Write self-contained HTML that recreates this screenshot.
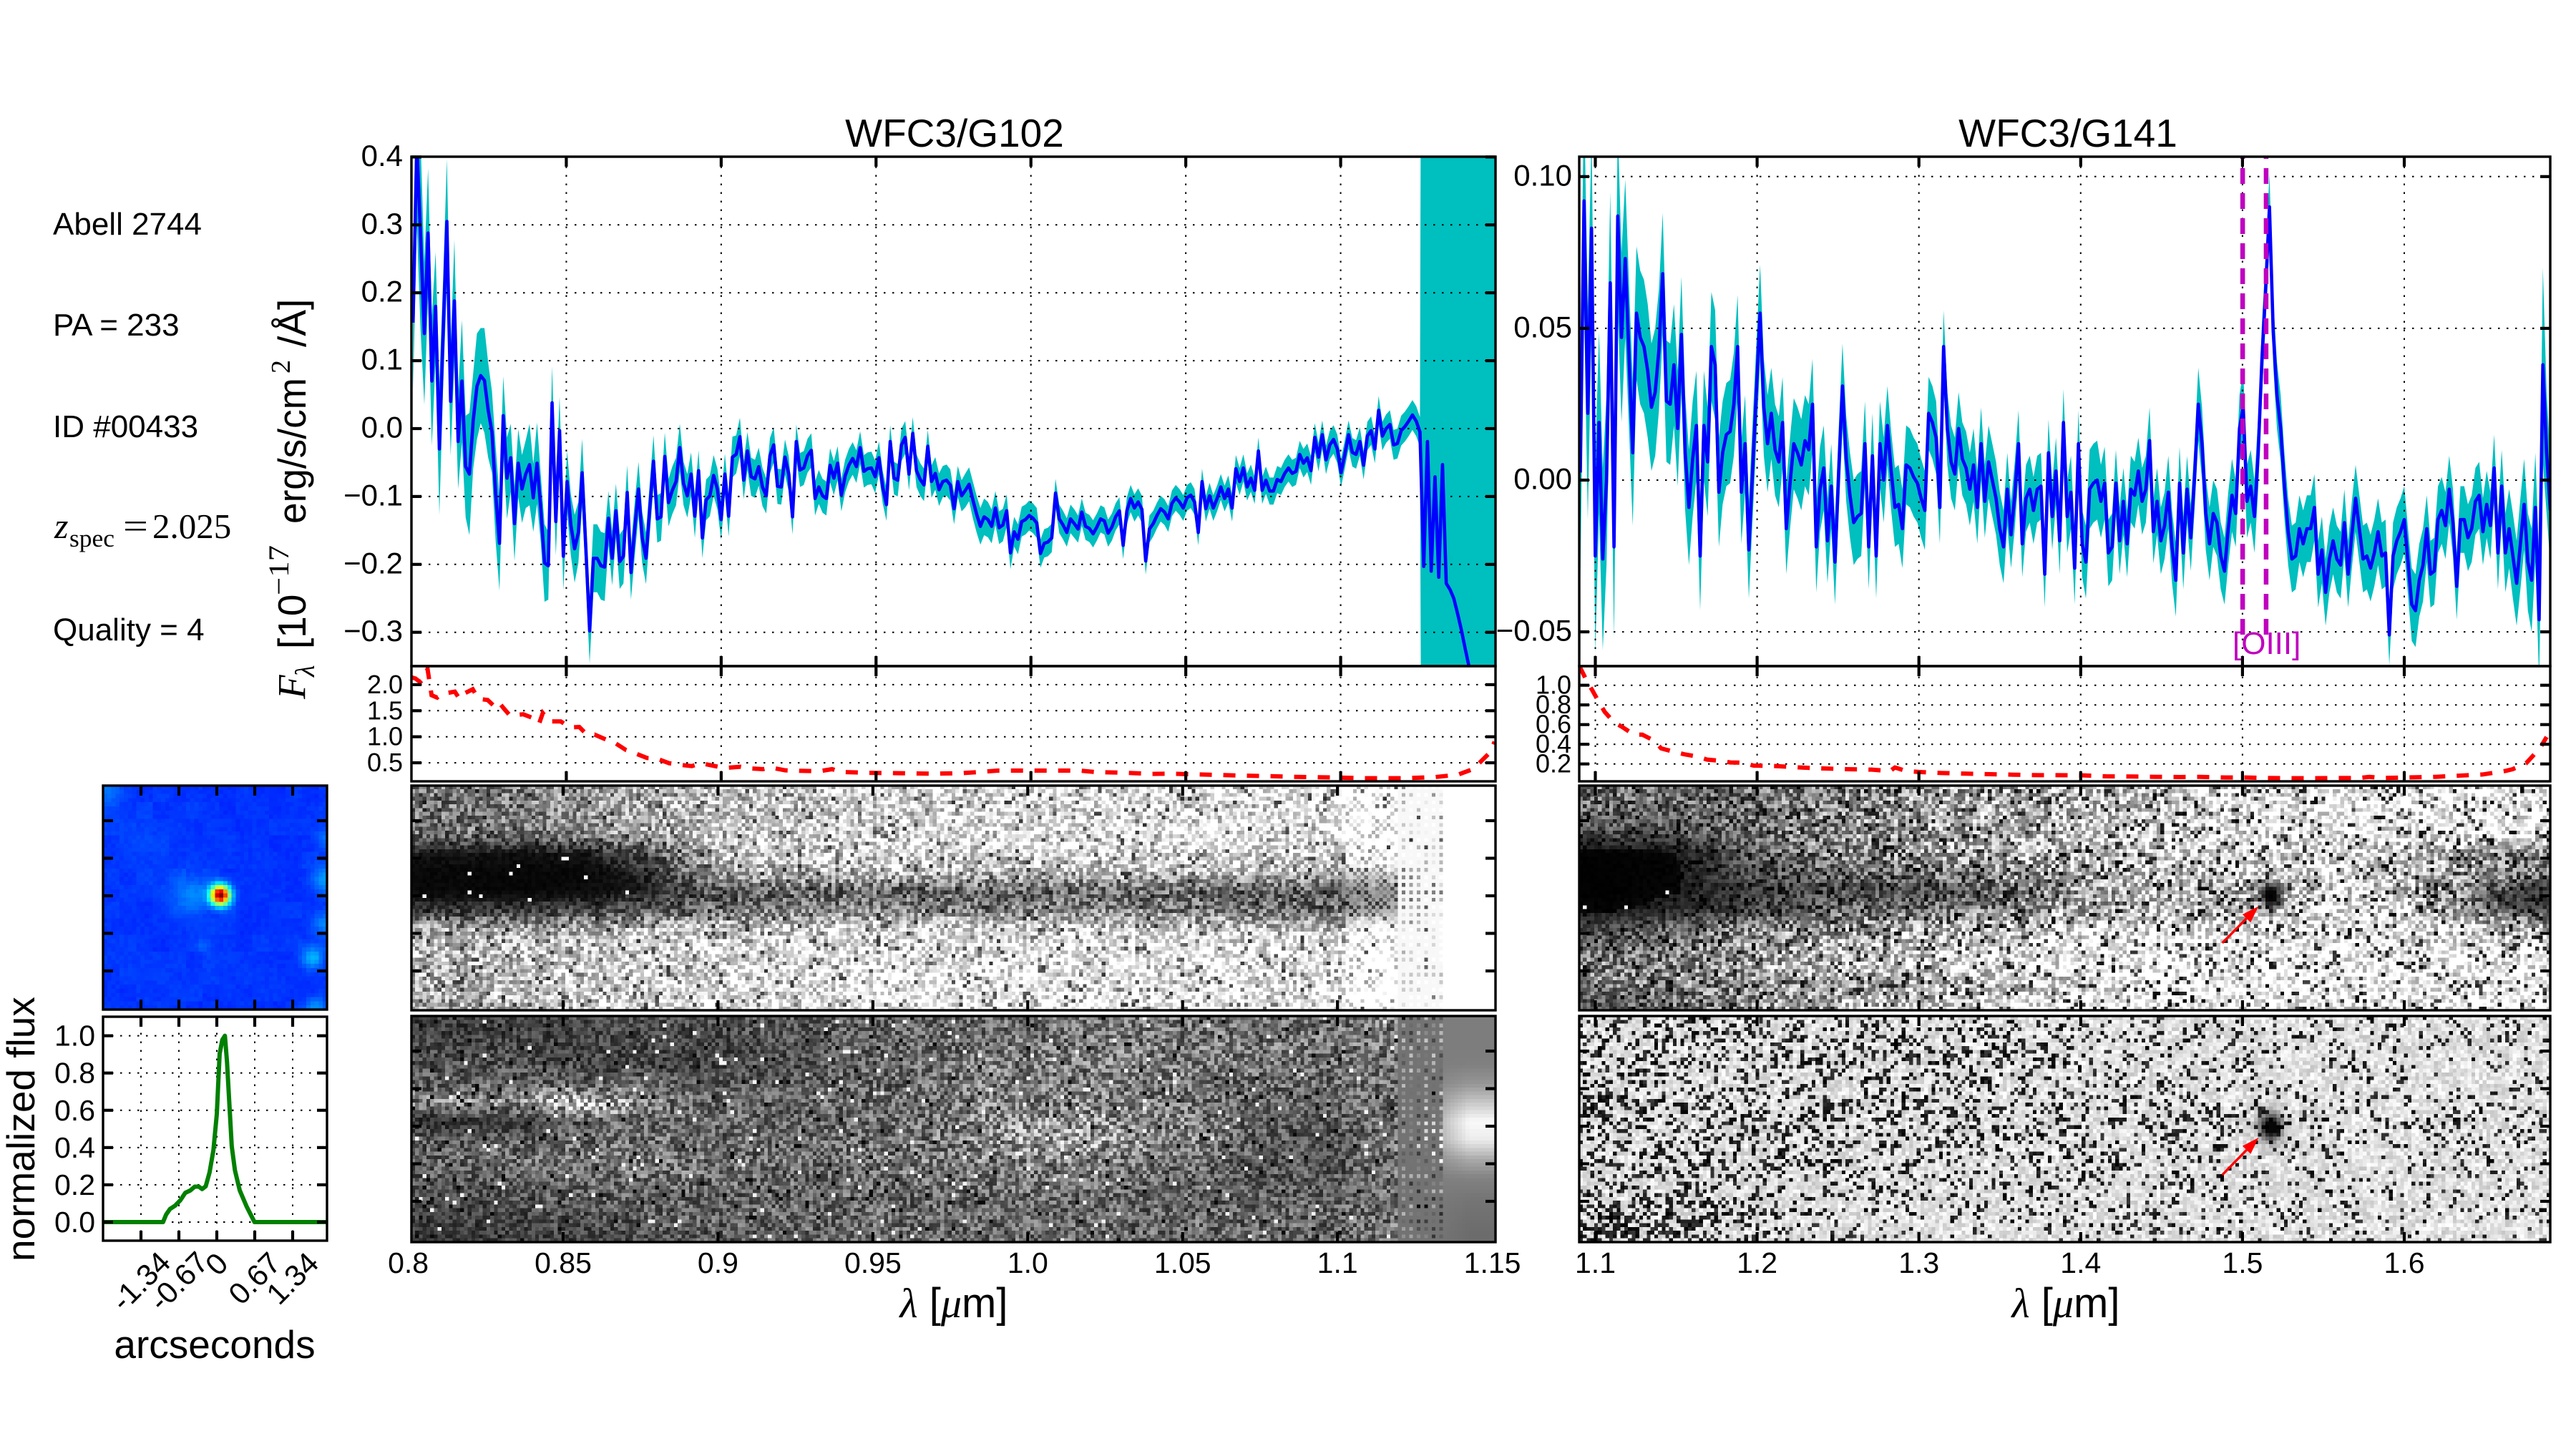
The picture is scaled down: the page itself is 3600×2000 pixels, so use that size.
<!DOCTYPE html>
<html lang="en">
<head>
<meta charset="utf-8">
<title>WFC3 G102 / G141 spectra - Abell 2744 ID 00433</title>
<style>
html,body{margin:0;padding:0;background:#fff;width:3600px;height:2000px;overflow:hidden}
#stage{position:relative;width:3600px;height:2000px;background:#fff;overflow:hidden}
canvas{position:absolute;image-rendering:pixelated;display:block}
svg{position:absolute;left:0;top:0}
text{font-family:"Liberation Sans",sans-serif;fill:#000}
.serif{font-family:"Liberation Serif",serif}
</style>
</head>
<body>
<div id="stage">
<canvas id="cDirect" width="54" height="54" style="left:144px;top:1098px;width:313px;height:313px"></canvas>
<canvas id="cA" width="289" height="60" style="left:575px;top:1098px;width:1515px;height:314px"></canvas>
<canvas id="cB" width="289" height="60" style="left:575px;top:1420px;width:1515px;height:316px"></canvas>
<canvas id="cC" width="259" height="60" style="left:2207px;top:1098px;width:1357px;height:314px"></canvas>
<canvas id="cD" width="259" height="60" style="left:2207px;top:1420px;width:1357px;height:316px"></canvas>
<svg id="figure" width="3600" height="2000" viewBox="0 0 3600 2000">
  <defs>
    <clipPath id="clipA"><rect x="575" y="219" width="1515" height="712"/></clipPath>
    <clipPath id="clipB"><rect x="2207" y="219" width="1357" height="712"/></clipPath>
    <clipPath id="clipRA"><rect x="575" y="931" width="1515" height="161"/></clipPath>
    <clipPath id="clipRB"><rect x="2207" y="931" width="1357" height="161"/></clipPath>
    <clipPath id="clipP"><rect x="144" y="1421" width="313" height="313"/></clipPath>
  </defs>
  <g id="bandLayer"></g>
  <g id="gridLayer"></g>
  <g id="dataLayer"></g>
  <g id="frameLayer"></g>

  <text x="1334" y="205" text-anchor="middle" font-size="55">WFC3/G102</text>
  <text x="2890" y="205" text-anchor="middle" font-size="55">WFC3/G141</text>

  <text x="74" y="328" font-size="44">Abell 2744</text>
  <text x="74" y="469" font-size="44">PA = 233</text>
  <text x="74" y="611" font-size="44">ID #00433</text>
  <g>
    <text class="serif" x="76" y="752" font-size="50" font-style="italic">z</text>
    <text class="serif" x="97" y="764" font-size="35" textLength="63" lengthAdjust="spacingAndGlyphs">spec</text>
    <text class="serif" x="172" y="752" font-size="50" textLength="35" lengthAdjust="spacingAndGlyphs">=</text>
    <text class="serif" x="213" y="752" font-size="49">2.025</text>
  </g>
  <text x="74" y="895" font-size="44">Quality = 4</text>

  <g>
    <text class="serif" transform="translate(426,977) rotate(-90)" font-size="55" font-style="italic">F</text>
    <text class="serif" transform="translate(439,946) rotate(-90)" font-size="38" font-style="italic">λ</text>
    <text transform="translate(427,907) rotate(-90)" font-size="55">[10</text>
    <text class="serif" transform="translate(403,832) rotate(-90)" font-size="40" textLength="70" lengthAdjust="spacingAndGlyphs">−17</text>
    <text transform="translate(427,732) rotate(-90)" font-size="55" textLength="204" lengthAdjust="spacingAndGlyphs">erg/s/cm</text>
    <text class="serif" transform="translate(405,522) rotate(-90)" font-size="38">2</text>
    <text transform="translate(427,485) rotate(-90)" font-size="55">/Å</text>
    <text transform="translate(427,433) rotate(-90)" font-size="55">]</text>
  </g>

  <text transform="translate(48,1763) rotate(-90)" font-size="55">normalized flux</text>
  <text x="300" y="1898" text-anchor="middle" font-size="55">arcseconds</text>

  <text x="1333" y="1841" text-anchor="middle" font-size="58"><tspan class="serif" font-style="italic">λ</tspan> [<tspan class="serif" font-style="italic">μ</tspan>m]</text>
  <text x="2887" y="1841" text-anchor="middle" font-size="58"><tspan class="serif" font-style="italic">λ</tspan> [<tspan class="serif" font-style="italic">μ</tspan>m]</text>
</svg>
</div>

<script>
/* ---------- G102 spectrum ---------- */
const g102Lambda0 = 0.80052;
const g102LambdaStep = 0.001213;
const g102Flux = [
.156,.420,.285,.140,.288,.070,.180,-.030,.140,.305,
.040,.188,-.019,.070,-.056,-.067,.011,.062,.078,.071,
.027,-.005,-.097,-.169,.019,-.073,-.043,-.140,-.051,-.089,
-.067,-.053,-.102,-.051,-.118,-.198,-.202,.038,-.137,-.003,
-.188,-.078,-.142,-.177,-.153,-.065,-.177,-.298,-.191,-.191,
-.202,-.204,-.132,-.191,-.121,-.196,-.188,-.094,-.212,-.148,
-.089,-.161,-.191,-.118,-.048,-.133,-.130,-.041,-.109,-.091,
-.078,-.028,-.081,-.099,-.067,-.129,-.062,-.161,-.105,-.099,
-.069,-.089,-.134,-.067,-.129,-.042,-.038,-.012,-.076,-.033,
-.071,-.074,-.056,-.086,-.099,-.040,-.024,-.085,-.086,-.042,
-.067,-.130,-.019,-.061,-.058,-.040,-.032,-.103,-.086,-.099,
-.103,-.054,-.073,-.051,-.098,-.070,-.054,-.044,-.056,-.028,
-.063,-.059,-.058,-.071,-.043,-.086,-.112,
-.019,-.073,-.076,-.024,-.013,-.067,-.007,-.062,-.075,-.083,
-.026,-.078,-.066,-.090,-.078,-.076,-.083,-.118,-.078,-.099,
-.091,-.082,-.105,-.126,-.144,-.130,-.134,-.144,-.117,-.146,
-.142,-.121,-.183,-.152,-.163,-.137,-.134,-.128,-.132,-.139,
-.184,-.169,-.167,-.161,-.095,-.133,-.142,-.153,-.133,-.140,
-.148,-.123,-.144,-.147,-.155,-.145,-.133,-.136,-.154,-.145,
-.130,-.121,-.172,-.121,-.103,-.117,-.108,-.119,-.195,-.148,
-.140,-.128,-.118,-.123,-.133,-.110,-.102,-.108,-.117,-.102,
-.098,-.108,-.153,-.078,-.118,-.099,-.117,-.103,-.086,-.103,
-.089,-.117,-.059,-.078,-.058,-.086,-.073,-.091,-.033,-.091,
-.076,-.092,-.092,-.075,-.078,-.066,-.058,-.066,-.063,-.038,
-.051,-.043,-.062,-.013,-.042,-.009,-.046,-.024,-.016,-.030,
-.065,-.038,-.009,-.035,-.038,-.019,-.054,-.011,-.003,-.030,
.027,-.011,0,.006,-.024,-.022,-.003,.003,.011,.020,
.011,-.005,
-.203,-.019,-.210,-.071,-.219,-.053,-.228,-.237,-.250,-.272,-.296,-.323,-.349,-.386,
-.43,-.48,-.53,-.58,-.63,-.68
];
const g102Err = [
.10,.12,.14,.105,.095,.095,.08,.097,.08,.092,
.08,.09,.07,.09,.075,.09,.07,.078,.07,.077,
.07,.06,.07,.07,.058,.06,.05,.055,.05,.05,
.05,.06,.05,.06,.05,.057,.05,.054,.05,.05,
.05,.045,.045,.05,.045,.05,.05,.048,.05,.05,
.05,.05,.04,.04,.04,.04,.04,.04,.04,.04,
.04,.038,.038,.038,.038,.035,.035,.035,.035,.035,
.035,.035,.032,.032,.032,.032,.03,.03,.03,.03,
.03,.03,.03,.03,.03,.03,.028,.028,.028,.028,
.028,.028,.028,.028,.026,.026,.026,.026,.026,.026,
.026,.026,.025,.025,.025,.025,.025,.025,.025,.025,
.025,.025,.025,.025,.024,.024,.024,.024,.024,.024,
.024,.024,.024,.024,.024,.024,.024,
.024,.024,.024,.024,.024,.024,.024,.024,.024,.024,
.024,.024,.024,.024,.023,.023,.023,.023,.023,.023,
.025,.025,.027,.027,.027,.027,.026,.025,.025,.024,
.024,.024,.024,.022,.022,.022,.022,.022,.022,.022,
.021,.021,.021,.021,.021,.021,.021,.021,.021,.021,
.020,.020,.020,.020,.020,.020,.020,.020,.020,.020,
.020,.020,.020,.020,.020,.020,.020,.020,.020,.020,
.019,.019,.019,.019,.019,.019,.019,.019,.019,.019,
.019,.019,.019,.019,.019,.019,.019,.019,.019,.019,
.020,.020,.020,.020,.020,.020,.020,.020,.020,.020,
.020,.020,.020,.020,.020,.020,.020,.020,.020,.020,
.021,.021,.021,.021,.021,.021,.021,.021,.021,.021,
.021,.021,.021,.021,.021,.021,.021,.021,.021,.021,
.021,.021,.021,.021,.022,.022,.022,.022,.022,.022,
.022,.022,
99,99,99,99,99,99,99,99,99,99,99,99,99,99,
99,99,99,99,99,99
];

/* ---------- G141 spectrum ---------- */
const g141Lambda0 = 1.09071;
const g141LambdaStep = 0.002315;
const g141Flux = [
.0025,.092,.022,.083,-.025,.019,-.026,0,.065,-.022,
.087,.047,.073,.041,.009,.055,.047,.044,.036,.024,
.029,.043,.068,.026,.025,.038,.017,.048,.009,-.009,
.007,.018,-.025,.018,.006,.044,.038,-.004,.009,.015,
.016,.025,.044,-.004,.012,-.023,.003,.029,.055,.024,
.012,.022,.010,.006,.019,-.016,-.001,.012,.009,.005,
.013,.010,.025,-.022,-.003,.004,-.020,-.002,-.027,.003,
.031,.007,-.005,-.014,-.012,-.011,.012,-.022,.008,-.025,
.012,0,.018,.003,-.009,-.008,-.016,.005,.004,.001,
-.001,-.006,-.010,.022,.019,.014,-.009,.044,.017,.006,
.002,.017,.007,.004,-.003,.005,-.009,.012,-.007,.006,
0,-.006,-.016,-.022,-.003,-.018,-.005,.012,-.021,-.006,
-.003,-.010,-.003,
-.002,-.031,.009,-.012,.003,-.020,.019,-.012,-.004,-.029,
.012,-.021,-.027,-.003,-.001,0,-.007,-.001,-.024,-.022,
-.001,-.020,-.007,-.021,-.003,-.005,.003,-.007,-.003,.013,
-.017,-.007,-.020,-.015,-.004,-.022,-.033,-.001,-.024,-.003,
-.019,.001,.025,.012,-.011,-.021,-.011,-.014,-.025,-.030,
-.016,-.005,-.011,.017,.024,-.007,-.002,-.012,.009,.040,
.063,.090,.049,.028,.017,-.002,-.017,-.026,-.025,-.016,
-.021,-.016,-.016,-.009,-.031,-.023,-.037,-.026,-.020,-.026,
-.028,-.014,-.031,-.018,-.006,-.016,-.026,-.025,-.029,-.024,
-.017,-.025,-.024,-.051,-.025,-.020,-.017,-.013,-.027,-.041,
-.043,-.033,-.028,-.016,-.031,-.030,-.013,-.010,-.015,-.003,
-.014,-.035,-.013,-.013,-.019,-.016,-.007,-.005,-.017,-.008,
-.015,.004,-.024,-.002,-.024,-.016,-.025,-.034,-.021,-.008,
-.027,-.033,-.009,-.046,.038,.009,-.010
];
const g141Err = [
.035,.035,.035,.032,.032,.03,.03,.028,.03,.03,
.03,.028,.026,.024,.024,.022,.022,.022,.022,.021,
.021,.02,.02,.02,.02,.02,.019,.019,.019,.019,
.019,.018,.018,.018,.018,.018,.018,.018,.017,.017,
.017,.017,.017,.017,.016,.016,.016,.016,.016,.016,
.016,.015,.015,.015,.015,.015,.015,.015,.015,.015,
.015,.015,.015,.015,.014,.014,.014,.014,.014,.014,
.014,.014,.014,.014,.014,.014,.014,.014,.014,.014,
.014,.014,.013,.013,.013,.013,.013,.013,.013,.013,
.013,.013,.013,.012,.012,.012,.012,.012,.012,.012,
.012,.012,.012,.012,.012,.012,.012,.012,.012,.012,
.012,.012,.012,.012,.012,.011,.011,.011,.011,.011,
.011,.011,.011,
.011,.011,.011,.011,.011,.011,.011,.012,.012,.012,
.011,.011,.012,.013,.013,.013,.012,.012,.011,.011,
.011,.011,.011,.011,.011,.011,.011,.011,.011,.011,
.0105,.011,.011,.011,.012,.012,.012,.012,.012,.011,
.011,.011,.012,.012,.012,.012,.011,.011,.011,.011,
.012,.012,.011,.011,.012,.012,.012,.012,.012,.012,
.011,.011,.011,.011,.011,.011,.011,.011,.011,.011,
.011,.011,.011,.011,.011,.011,.011,.011,.011,.011,
.011,.011,.011,.011,.011,.011,.011,.011,.011,.011,
.011,.011,.011,.010,.011,.011,.011,.011,.011,.012,
.012,.012,.012,.011,.011,.011,.011,.011,.011,.011,
.011,.011,.011,.011,.011,.011,.011,.011,.011,.011,
.011,.011,.012,.012,.013,.013,.014,.014,.015,.015,
.016,.017,.018,.020,.032,.020,.018
];

/* ---------- sensitivity curves ---------- */
const g102SensLambda = [.8000,.8013,.8028,.8040,.8052,.8065,.8083,.8097,.8140,.8155,.8167,.8198,.8216,.8246,.8264,.8279,.8298,.8318,.8361,.8391,.8412,.8424,.8445,.8482,.8512,.8542,.8566,.8591,.8627,.8651,.8693,.8721,.8760,.8790,.8832,.8869,.8905,.8935,.8990,.9014,.9062,.9092,.9135,.9159,.9207,.9316,.9358,.9389,.9467,.9676,.9772,.9820,.9893,1.0001,1.0158,1.0207,1.0303,1.0388,1.0448,1.0545,1.0678,1.0763,1.0847,1.0992,1.1077,1.1210,1.1306,1.1379,1.1427,1.1451,1.1482,1.1497];
const g102SensValue = [2.141,2.118,2.049,2.118,2.301,1.797,1.751,1.820,1.866,1.729,1.820,1.912,1.729,1.706,1.605,1.683,1.545,1.408,1.431,1.362,1.248,1.454,1.294,1.294,1.179,1.188,1.042,1.042,.950,.904,.744,.685,.593,.584,.492,.460,.437,.492,.424,.401,.424,.392,.378,.410,.355,.337,.378,.323,.309,.291,.300,.318,.350,.350,.350,.323,.309,.286,.291,.277,.254,.245,.231,.217,.204,.204,.227,.272,.378,.515,.698,.904];
const g141SensLambda = [1.0903,1.0951,1.0982,1.1023,1.1058,1.1115,1.1166,1.1238,1.1290,1.1362,1.1407,1.1485,1.1547,1.1629,1.1691,1.1773,1.1835,1.1917,1.1978,1.2122,1.2266,1.2410,1.2554,1.2708,1.2821,1.2852,1.2924,1.3006,1.3140,1.3294,1.3438,1.3582,1.3742,1.3804,1.4010,1.4155,1.4320,1.4464,1.4608,1.4732,1.4897,1.5021,1.5165,1.5309,1.5454,1.5598,1.5722,1.5784,1.5866,1.6010,1.6196,1.6340,1.6485,1.6629,1.6670,1.6753,1.6794,1.6845,1.6880];
const g141SensValue = [1.189,1.032,.947,.826,.729,.624,.576,.498,.498,.438,.358,.324,.299,.275,.244,.232,.215,.212,.183,.178,.164,.154,.147,.142,.127,.164,.127,.118,.108,.101,.096,.091,.086,.086,.084,.074,.072,.069,.067,.069,.062,.062,.057,.055,.055,.057,.057,.069,.057,.062,.069,.081,.093,.130,.147,.207,.280,.377,.474];

/* ---------- spatial profile ---------- */
const profileArcsec = [-2.01,-.95,-.896,-.828,-.738,-.647,-.557,-.467,-.39,-.317,-.26,-.196,-.128,-.06,0,.05,.097,.143,.18,.22,.264,.32,.405,.526,.666,1.95];
const profileFlux = [0,0,.04,.07,.088,.116,.157,.17,.19,.19,.177,.192,.267,.386,.58,.903,.978,1,.86,.644,.407,.278,.17,.084,0,0];

/* ---------- tick values and labels ---------- */
const g102XTicks = [.85,.9,.95,1.0,1.05,1.1];
const g102XLabelValues = [.8,.85,.9,.95,1.0,1.05,1.1,1.15];
const g102XLabels = ['0.8','0.85','0.9','0.95','1.0','1.05','1.1','1.15'];
const g141XTicks = [1.1,1.2,1.3,1.4,1.5,1.6];
const g141XLabels = ['1.1','1.2','1.3','1.4','1.5','1.6'];
const g102YTicks = [.4,.3,.2,.1,0,-.1,-.2,-.3];
const g102YLabels = ['0.4','0.3','0.2','0.1','0.0','−0.1','−0.2','−0.3'];
const g141YTicks = [.1,.05,0,-.05];
const g141YLabels = ['0.10','0.05','0.00','−0.05'];
const g102SensTicks = [2,1.5,1,.5];
const g102SensLabels = ['2.0','1.5','1.0','0.5'];
const g141SensTicks = [1,.8,.6,.4,.2];
const g141SensLabels = ['1.0','0.8','0.6','0.4','0.2'];
const profileYTicks = [1,.8,.6,.4,.2,0];
const profileYLabels = ['1.0','0.8','0.6','0.4','0.2','0.0'];
const profileXTicks = [-1.34,-.67,0,.67,1.34];
const profileXLabels = ['-1.34','-0.67','0','0.67','1.34'];
const imageRowTicks = [10,20,30,40,50];
const oiiiLambda = [1.5001,1.5146];

/* ---------- large-scale brightness of the 2-D spectra (0-255) ---------- */
const meanA = [
[110,120,145,170,190,200,210,210,215,220,220,220,220,225,230,250],
[105,115,140,165,185,200,210,215,220,220,220,220,225,225,230,250],
[100,105,125,170,195,210,215,220,225,225,225,225,230,230,235,252],
[25,20,25,75,180,200,205,210,215,220,220,215,210,215,220,250],
[10,8,10,40,150,180,185,185,185,190,190,185,175,170,175,248],
[10,8,12,30,90,95,95,90,95,100,100,95,85,80,105,245],
[45,40,60,70,100,120,125,120,120,120,120,115,105,95,125,245],
[165,145,160,185,190,195,200,200,205,205,200,200,185,185,210,250],
[185,190,200,210,215,220,225,225,230,230,230,230,220,220,230,252],
[170,185,200,210,215,220,230,235,235,235,235,235,230,230,235,252],
[170,180,200,210,215,220,230,235,240,240,235,235,230,230,235,252],
[155,180,200,210,220,225,235,235,235,240,235,235,230,235,240,252]];
const meanB = [
[60,65,70,75,80,85,95,100,110,115,115,115,110,110,120,125],
[70,70,65,70,70,80,95,105,115,120,125,120,115,115,120,130],
[80,80,75,70,70,85,100,110,125,125,125,120,115,110,120,135],
[95,95,95,100,95,90,105,110,125,125,125,115,110,105,115,150],
[130,145,230,125,100,100,110,115,130,130,125,115,100,100,115,190],
[45,50,90,105,100,100,100,110,135,150,140,125,95,90,110,240],
[90,95,110,115,110,105,110,120,140,165,155,130,90,80,110,245],
[105,105,120,120,115,110,110,120,130,130,125,110,85,85,110,180],
[90,95,105,110,105,105,105,110,115,115,110,100,90,90,110,135],
[75,80,95,100,100,100,105,105,105,105,105,100,95,95,110,125],
[65,70,85,95,100,105,105,105,100,105,105,105,100,100,115,120],
[55,65,65,85,90,95,100,105,105,105,105,105,100,100,115,115]];
const smoothEndB = [125,125,128,150,200,250,235,170,130,118,112,108];
const meanC = [
[100,90,95,110,130,140,150,165,180,190,215,225,235,235,235,235],
[85,85,95,110,125,140,150,165,185,200,220,225,235,235,240,235],
[55,60,90,110,130,140,150,170,190,205,220,225,235,230,230,230],
[5,10,60,100,120,135,150,165,190,205,215,220,215,190,130,110],
[3,8,50,85,105,110,125,145,175,195,195,200,215,190,150,110],
[3,10,35,50,65,60,75,110,150,170,130,195,215,190,120,40],
[8,25,40,70,85,90,100,130,165,185,170,205,225,205,130,40],
[50,80,110,125,145,165,175,190,205,215,220,230,235,225,190,170],
[90,110,130,145,165,190,215,220,235,245,240,240,240,240,225,230],
[115,120,140,160,180,195,215,225,240,245,245,245,240,240,240,240],
[110,110,125,135,130,145,170,185,215,235,240,240,240,240,240,240],
[70,100,130,150,170,195,215,225,240,250,245,245,240,235,240,240]];
const meanD = [
[175,175,180,175,175,180,190,195,200,205,215,215,215,215,215,215],
[180,180,180,170,175,180,165,190,200,205,215,215,215,215,215,220],
[185,180,185,180,175,180,170,190,200,205,215,220,225,225,225,225],
[190,180,185,185,185,190,185,195,205,210,215,215,225,225,225,225],
[150,175,180,185,190,190,190,200,205,205,190,215,225,225,225,225],
[170,180,165,165,175,170,175,190,190,190,150,205,215,210,200,205],
[170,175,175,170,180,180,185,190,195,195,175,215,215,210,205,205],
[170,175,185,185,190,190,190,195,195,205,205,220,225,225,215,220],
[165,170,185,190,195,205,205,200,195,210,215,225,225,225,225,225],
[160,170,185,195,200,205,215,215,210,210,215,220,225,225,225,225],
[130,150,190,200,200,210,225,225,215,215,215,210,215,225,225,225],
[80,120,170,200,210,225,235,235,225,225,230,225,225,230,235,235]];

/* direct-image features: centre x, centre y, sigma (figure px), jet amplitude */
const directFeatures = [
[308,1251,9.6,.83],[268,1250,20,.08],[284,1322,7,.04],[437,1338,11,.13],
[456,1230,14,.11],[452,1290,12,.07],[150,1104,14,.07],[456,1172,10,.06],[440,1408,10,.1],[210,1180,40,.015]];

/* ---------- scales ---------- */
const xG102 = l => 575 + (l - .8) * 4328.6;
const xG102Image = l => 787 + (l - .85) * 4328.6;
const xG141 = l => 2229.5 + (l - 1.1) * 2261;
const yG102 = v => 599 - v * 949;
const yG141 = v => 671 - v * 4242;
const ySensA = v => 1102.5 - v * 72.8;
const ySensB = v => 1095.2 - v * 137.5;
const xProfile = a => 303 + a * 79.1;
const yProfile = v => 1708 - v * 260.4;
const yImageRow = (top, r) => top - 3.5 + 5.25 * r;

const SVG_NS = document.querySelector('svg').namespaceURI;
const bandLayer = document.getElementById('bandLayer');
const gridLayer = document.getElementById('gridLayer');
const dataLayer = document.getElementById('dataLayer');
const frameLayer = document.getElementById('frameLayer');

function mk(tag, attrs, parent) {
  const e = document.createElementNS(SVG_NS, tag);
  for (const k in attrs) e.setAttribute(k, attrs[k]);
  parent.appendChild(e);
  return e;
}
function pathOf(xs, ys) {
  return xs.map((x, i) => (i ? 'L' : 'M') + x.toFixed(2) + ' ' + ys[i].toFixed(2)).join('');
}

function drawGridV(xs, top, bottom) {
  xs.forEach(x => {
    const g = mk('line', {x1:x, x2:x, y1:bottom, y2:top, stroke:'#000', 'stroke-width':2, 'stroke-dasharray':'2.5 9.5'}, gridLayer);
    
    
  });
}
function drawGridH(ys, left, right) {
  ys.forEach(y => {
    const g = mk('line', {x1:left, x2:right, y1:y, y2:y, stroke:'#000', 'stroke-width':2, 'stroke-dasharray':'2.5 9.5'}, gridLayer);
    
    
  });
}
function drawFrame(left, top, right, bottom) {
  const r = mk('rect', {x:left, y:top, width:right-left, height:bottom-top, fill:'none', stroke:'#000', 'stroke-width':3.4}, frameLayer);
  
  
}
function drawXTicks(xs, top, bottom) {
  xs.forEach(x => {
    const a = mk('line', {x1:x, x2:x, y1:top, y2:top+14, stroke:'#000', 'stroke-width':4.2}, frameLayer);
    
    
    const b = mk('line', {x1:x, x2:x, y1:bottom, y2:bottom-14, stroke:'#000', 'stroke-width':4.2}, frameLayer);
    
    
  });
}
function drawYTicks(ys, left, right) {
  ys.forEach(y => {
    const a = mk('line', {x1:left, x2:left+14, y1:y, y2:y, stroke:'#000', 'stroke-width':4.2}, frameLayer);
    
    
    const b = mk('line', {x1:right, x2:right-14, y1:y, y2:y, stroke:'#000', 'stroke-width':4.2}, frameLayer);
    
    
  });
}
function drawYLabels(ys, labels, x, size, shift) {
  labels.forEach((s, i) => {
    const t = mk('text', {x:x, y:ys[i]+shift, 'text-anchor':'end', 'font-size':size}, frameLayer);
    t.textContent = s;
    
    
  });
}
function drawXLabels(xs, labels, y, size) {
  labels.forEach((s, i) => {
    const t = mk('text', {x:xs[i], y:y, 'text-anchor':'middle', 'font-size':size}, frameLayer);
    t.textContent = s;
    
    
  });
}

/* band edges are limited to the page so the huge off-scale errors stay in frame */
const limitBand = y => Math.max(-1500, Math.min(1990, y));
function drawSpectrum(flux, err, l0, step, xf, yf, clip, key) {
  const xs = flux.map((_, i) => xf(l0 + step * i));
  const up = flux.map((v, i) => limitBand(yf(v + err[i])));
  const lo = flux.map((v, i) => limitBand(yf(v - err[i])));
  const band = mk('path', {d: pathOf(xs.concat(xs.slice().reverse()), up.concat(lo.slice().reverse())) + 'Z', fill:'#00BFBF', stroke:'none', 'clip-path':'url(#' + clip + ')'}, bandLayer);
  
  
  const line = mk('path', {d: pathOf(xs, flux.map(yf)), fill:'none', stroke:'#0000FF', 'stroke-width':4.6, 'stroke-linejoin':'round', 'clip-path':'url(#' + clip + ')'}, dataLayer);
  
  
}
function drawSensitivity(ls, vs, xf, yf, clip, key) {
  const p = mk('path', {d: pathOf(ls.map(xf), vs.map(yf)), fill:'none', stroke:'#FF0000', 'stroke-width':6, 'stroke-dasharray':'17 16', 'clip-path':'url(#' + clip + ')'}, dataLayer);
  
  
}

/* ---- top spectra ---- */
drawSpectrum(g102Flux, g102Err, g102Lambda0, g102LambdaStep, xG102, yG102, 'clipA', 'g102');
drawSpectrum(g141Flux, g141Err, g141Lambda0, g141LambdaStep, xG141, yG141, 'clipB', 'g141');
drawGridV(g102XTicks.map(xG102), 219, 931);
drawGridH(g102YTicks.slice(1).map(yG102), 575, 2090);
drawGridV(g141XTicks.map(xG141), 219, 931);
drawGridH(g141YTicks.map(yG141), 2207, 3564);

/* ---- [OIII] markers ---- */
oiiiLambda.forEach(l => {
  const m = mk('line', {x1:xG141(l), x2:xG141(l), y1:887, y2:219, stroke:'#BF00BF', 'stroke-width':6.5, 'stroke-dasharray':'22 13'}, frameLayer);
  
  
});
const oiiiText = mk('text', {x:3120, y:914, 'font-size':44, style:'fill:#BF00BF'}, frameLayer);
oiiiText.textContent = '[OIII]';



drawFrame(575, 219, 2090, 931);
drawFrame(2207, 219, 3564, 931);
drawXTicks(g102XTicks.map(xG102), 219, 931);
drawXTicks(g141XTicks.map(xG141), 219, 931);
drawYTicks(g102YTicks.map(yG102), 575, 2090);
drawYTicks(g141YTicks.map(yG141), 2207, 3564);
drawYLabels(g102YTicks.map(yG102), g102YLabels, 563, 42, 12.5);
drawYLabels(g141YTicks.map(yG141), g141YLabels, 2197, 42, 12.5);

/* ---- sensitivity panels ---- */
drawSensitivity(g102SensLambda, g102SensValue, xG102, ySensA, 'clipRA', 'g102');
drawSensitivity(g141SensLambda, g141SensValue, xG141, ySensB, 'clipRB', 'g141');
drawGridV(g102XTicks.map(xG102), 931, 1092);
drawGridH(g102SensTicks.map(ySensA), 575, 2090);
drawGridV(g141XTicks.map(xG141), 931, 1092);
drawGridH(g141SensTicks.map(ySensB), 2207, 3564);
drawFrame(575, 931, 2090, 1092);
drawFrame(2207, 931, 3564, 1092);
drawXTicks(g102XTicks.map(xG102), 931, 1092);
drawXTicks(g141XTicks.map(xG141), 931, 1092);
drawYTicks(g102SensTicks.map(ySensA), 575, 2090);
drawYTicks(g141SensTicks.map(ySensB), 2207, 3564);
drawYLabels(g102SensTicks.map(ySensA), g102SensLabels, 563, 36, 12);
drawYLabels(g141SensTicks.map(ySensB), g141SensLabels, 2196, 36, 12);

/* ---- 2-D panel frames ---- */
[[1098,1412],[1420,1736]].forEach(b => {
  drawFrame(575, b[0], 2090, b[1]);
  drawFrame(2207, b[0], 3564, b[1]);
  drawXTicks(g102XTicks.map(xG102Image), b[0], b[1]);
  drawXTicks(g141XTicks.map(xG141), b[0], b[1]);
  drawYTicks(imageRowTicks.map(r => yImageRow(b[0], r)), 575, 2090);
  drawYTicks(imageRowTicks.map(r => yImageRow(b[0], r)), 2207, 3564);
});
drawXLabels(g102XLabelValues.map(xG102Image), g102XLabels, 1779, 41);
drawXLabels(g141XTicks.map(xG141), g141XLabels, 1779, 41);

/* ---- emission-line arrows ---- */
[[1317.9,1266.6],[1642,1590]].forEach(a => {
  const tail = [3105.7, a[0]], tip = [3156.4, a[1]];
  const dx = tip[0]-tail[0], dy = tip[1]-tail[1], len = Math.hypot(dx,dy), ux = dx/len, uy = dy/len;
  const bx = tip[0]-ux*24, by = tip[1]-uy*24;
  const s = mk('line', {x1:tail[0], y1:tail[1], x2:bx, y2:by, stroke:'#FF0000', 'stroke-width':3.4}, frameLayer);
  
  
  const h = mk('polygon', {points:[tip[0],tip[1],bx-uy*8,by+ux*8,bx+uy*8,by-ux*8].join(' '), fill:'#FF0000'}, frameLayer);
  
  
});

/* ---- left column: direct image frame and profile ---- */
const profileLine = mk('path', {d: pathOf(profileArcsec.map(xProfile), profileFlux.map(yProfile)), fill:'none', stroke:'#008000', 'stroke-width':6, 'stroke-linejoin':'round', 'clip-path':'url(#clipP)'}, dataLayer);


drawGridV(profileXTicks.map(xProfile), 1421, 1734);
drawGridH(profileYTicks.map(yProfile), 144, 457);
drawFrame(144, 1098, 457, 1411);
drawFrame(144, 1421, 457, 1734);
drawXTicks(profileXTicks.map(xProfile), 1098, 1411);
drawYTicks(imageRowTicks.map(r => yImageRow(1098, r)), 144, 457);
drawXTicks(profileXTicks.map(xProfile), 1421, 1734);
drawYTicks(profileYTicks.map(yProfile), 144, 457);
drawYLabels(profileYTicks.map(yProfile), profileYLabels, 133, 41, 14);
profileXLabels.forEach((s, i) => {
  const cx = xProfile(profileXTicks[i]);
  const cy = s === '0' ? 1767 : (s.charAt(0) === '-' ? 1791 : 1787);
  const t = mk('text', {'text-anchor':'middle', 'font-size':42, transform:'translate(' + cx + ',' + cy + ') rotate(-45) translate(0,14)'}, frameLayer);
  t.textContent = s;
  
  
});

/* ---------- raster panels ---------- */
/* The per-pixel grain below is a synthetic deterministic texture; only the
   large-scale brightness comes from the arrays. */
function grain(i, j, s) {
  const h = Math.sin(i * 12.9898 + j * 78.233 + s * 37.719) * 43758.5453;
  return h - Math.floor(h);
}
function sampleMean(grid, fx, fy) {
  const R = grid.length, C = grid[0].length;
  const gx = Math.max(0, Math.min(C - 1.001, fx * C - .5));
  const gy = Math.max(0, Math.min(R - 1.001, fy * R - .5));
  const x0 = Math.floor(gx), y0 = Math.floor(gy), tx = gx - x0, ty = gy - y0;
  return (grid[y0][x0]*(1-tx) + grid[y0][x0+1]*tx)*(1-ty) + (grid[y0+1][x0]*(1-tx) + grid[y0+1][x0+1]*tx)*ty;
}
function sampleProfile(list, fy) {
  const g = Math.max(0, Math.min(list.length - 1.001, fy * list.length - .5));
  const k = Math.floor(g);
  return list[k] * (1 - (g - k)) + list[k + 1] * (g - k);
}
function paint(id, fn) {
  const c = document.getElementById(id), ctx = c.getContext('2d');
  const img = ctx.createImageData(c.width, c.height);
  for (let j = 0; j < c.height; j++) for (let i = 0; i < c.width; i++) {
    const v = fn(i, j, c.width, c.height), o = (j * c.width + i) * 4;
    if (Array.isArray(v)) { img.data[o]=v[0]; img.data[o+1]=v[1]; img.data[o+2]=v[2]; }
    else { const g = Math.max(0, Math.min(255, v)); img.data[o]=g; img.data[o+1]=g; img.data[o+2]=g; }
    img.data[o+3] = 255;
  }
  ctx.putImageData(img, 0, 0);
}
function blob(px, py, cx, cy) {
  const e = Math.exp(-((px-cx)*(px-cx)/(2*11*11) + (py-cy)*(py-cy)/(2*13*13)));
  return 1 - .97 * Math.min(1, e * 1.25);
}

paint('cA', (i, j, W, H) => {
  const px = 575 + (i + .5) / W * 1515;
  if (px > 2018) return 255;
  const m = sampleMean(meanA, i / W, j / H), u = grain(i, j, 1), w = grain(i, j, 2);
  if (px > 1953 && (i % 2 || j % 2)) return 248;
  if (px > 1880 && (i + j) % 2) return Math.min(255, m + 55);
  if (m < 30) return u > .985 ? 255 : m * (.3 + w);
  if (u < .1) return m * (.2 + .5 * w);
  return m + 12 + (w - .5) * 2 * Math.min(75, m * .8);
});
paint('cB', (i, j, W, H) => {
  const px = 575 + (i + .5) / W * 1515, fy = j / H;
  if (px > 2018) {
    const p = sampleProfile(smoothEndB, fy), f = Math.min(1, (px - 2018) / 35);
    return 125 + (p - 125) * (.55 + .45 * f);
  }
  const m = sampleMean(meanB, i / W, fy), u = grain(i, j, 3), w = grain(i, j, 4);
  if (px > 1953 && (i % 2 || j % 2)) return 115;
  if (u > .985) return 245;
  if (u < .02) return 8;
  return m + (w - .5) * m * 1.25;
});
paint('cC', (i, j, W, H) => {
  const px = 2207 + (i + .5) / W * 1357, py = 1098 + (j + .5) / H * 314;
  const m = sampleMean(meanC, i / W, j / H), u = grain(i, j, 5), w = grain(i, j, 6);
  let v;
  if (m < 14) v = u > .99 ? 255 : m * w;
  else if (u < .1) v = m * .3 * w;
  else v = m + 18 + (w - .5) * 2 * Math.min(95, m * .85);
  return v * blob(px, py, 3173.6, 1251.7);
});
paint('cD', (i, j, W, H) => {
  const px = 2207 + (i + .5) / W * 1357, py = 1420 + (j + .5) / H * 316;
  const m = sampleMean(meanD, i / W, j / H), u = grain(i, j, 7), w = grain(i, j, 8);
  const pd = (255 - m) / 255 * .95;
  const v = u < pd ? 60 * w : 195 + 60 * w;
  return v * blob(px, py, 3173.6, 1575);
});
function jet(v) {
  const c = x => Math.round(255 * Math.max(0, Math.min(1, 1.5 - Math.abs(4 * v - x))));
  return [c(3), c(2), c(1)];
}
paint('cDirect', (i, j, W, H) => {
  const px = 144 + (i + .5) / W * 313, py = 1098 + (j + .5) / H * 313;
  let v = .175 + (grain(i, j, 9) - .5) * .016 + (grain(i >> 2, j >> 2, 10) - .5) * .02;
  directFeatures.forEach(f => {
    v += f[3] * Math.exp(-((px-f[0])*(px-f[0]) + (py-f[1])*(py-f[1])) / (2*f[2]*f[2]));
  });
  return jet(Math.min(1, v));
});
</script>
</body>
</html>
